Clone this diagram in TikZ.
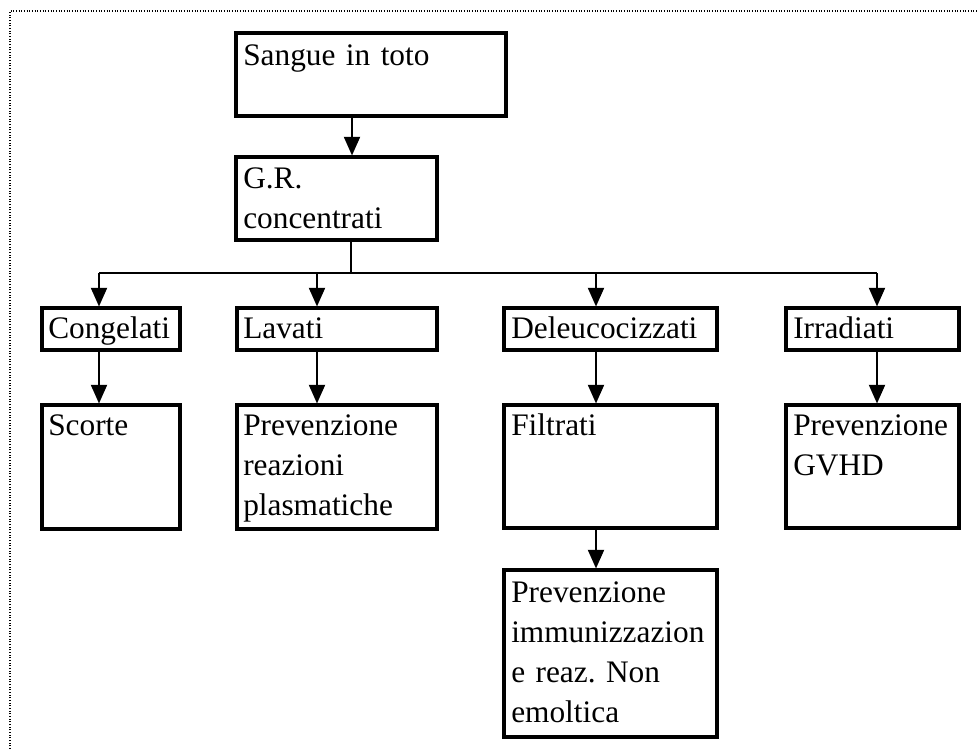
\documentclass[tikz,border=0pt]{standalone}
\usepackage{fontspec}
\setmainfont{Liberation Serif}
\usetikzlibrary{arrows.meta,fit}

\tikzset{
  box/.style={draw,line width=2.3pt,inner sep=0pt},
  txt/.style={anchor=base west,inner sep=0pt,text width=230pt,align=left,
    font=\fontsize{23.5}{30}\selectfont},
  link/.style={line width=1.6pt},
  frame/.style={line width=0.8pt,dash pattern=on 0.8pt off 1.2pt},
}

\begin{document}
\begin{tikzpicture}[x=0.75pt,y=-0.75pt,>={Triangle[width=12pt,length=14pt]}]
\useasboundingbox (0,0) rectangle (978,749);
\draw[frame] (10,749) -- (10,11) -- (978,11);

% boxes
\node[box,fit={(236,33) (506,116)}] (sangue) {};
\node[box,fit={(236,157) (437,240)}] (gr) {};
\node[box,fit={(42,308) (180,350)}] (cong) {};
\node[box,fit={(237,308) (437,350)}] (lavati) {};
\node[box,fit={(504,308) (717,350)}] (deleu) {};
\node[box,fit={(786,308) (959,350)}] (irrad) {};
\node[box,fit={(42,405) (180,529)}] (scorte) {};
\node[box,fit={(237,405) (437,529)}] (prevr) {};
\node[box,fit={(504,405) (717,528)}] (filtr) {};
\node[box,fit={(786,405) (959,528)}] (prevg) {};
\node[box,fit={(504,570) (717,737)}] (previ) {};

% texts
\node[txt] (sangueT) at (243,65) {Sangue in toto};
\node[txt] (grT) at (243,188) {G.R.\\concentrati};
\node[txt] (congT) at (48,338) {Congelati};
\node[txt] (lavatiT) at (243,338) {Lavati};
\node[txt] (deleuT) at (511,338) {Deleucocizzati};
\node[txt] (irradT) at (793,338) {Irradiati};
\node[txt] (scorteT) at (48,435) {Scorte};
\node[txt] (prevrT) at (243,435) {Prevenzione\\reazioni\\plasmatiche};
\node[txt] (filtrT) at (511,435) {Filtrati};
\node[txt] (prevgT) at (793,435) {Prevenzione\\GVHD};
\node[txt] (previT) at (511,602) {Prevenzione\\immunizzazion\\e reaz.\ Non\\emoltica};

% connectors
\coordinate (s1) at (352,0);
\coordinate (bus) at (351,273);
\coordinate (c1) at (99,273);
\coordinate (c2) at (317,273);
\coordinate (c3) at (596,273);
\coordinate (c4) at (877,273);
\draw[link,->] (sangue.south -| s1) -- (gr.north -| s1);
\draw[link] (gr.south -| bus) -- (bus);
\draw[link] (c1) -- (c4);
\draw[link,->] (c1) -- (cong.north -| c1);
\draw[link,->] (c2) -- (lavati.north -| c2);
\draw[link,->] (c3) -- (deleu.north -| c3);
\draw[link,->] (c4) -- (irrad.north -| c4);
\draw[link,->] (cong.south -| c1) -- (scorte.north -| c1);
\draw[link,->] (lavati.south -| c2) -- (prevr.north -| c2);
\draw[link,->] (deleu.south -| c3) -- (filtr.north -| c3);
\draw[link,->] (irrad.south -| c4) -- (prevg.north -| c4);
\draw[link,->] (filtr.south -| c3) -- (previ.north -| c3);
\end{tikzpicture}
\end{document}
